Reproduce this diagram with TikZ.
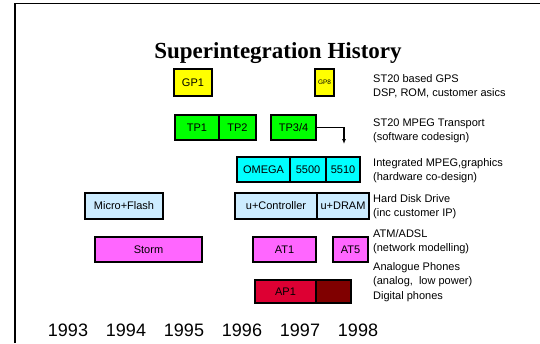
\documentclass[tikz,border=0pt]{standalone}
\usepackage{fontspec}
\setmainfont{Liberation Serif}
\setsansfont{Liberation Sans}
\usepackage{xcolor}
\usetikzlibrary{arrows.meta,positioning}
\definecolor{gpsyellow}{RGB}{255,255,0}
\definecolor{tpgreen}{RGB}{0,255,0}
\definecolor{mpegcyan}{RGB}{0,255,255}
\definecolor{hddblue}{RGB}{204,236,255}
\definecolor{atmpink}{RGB}{255,102,255}
\definecolor{phonered}{RGB}{221,0,51}
\definecolor{phonedark}{RGB}{128,0,0}

\begin{document}
\begin{tikzpicture}[
  x=1pt, y=-1pt,
  node distance=0pt,
  box/.style={draw, line width=1.3pt, anchor=north west, inner sep=0pt, outer sep=0pt,
              font=\sffamily\fontsize{11}{13}\selectfont, minimum height=25pt},
  gps/.style={box, fill=gpsyellow, minimum height=27pt},
  tpt/.style={box, fill=tpgreen},
  mpeg/.style={box, fill=mpegcyan},
  hdd/.style={box, fill=hddblue, minimum height=26pt},
  atm/.style={box, fill=atmpink},
  phone/.style={box, fill=phonered, minimum height=23pt},
  lbl/.style={anchor=base west, inner sep=0pt, align=left,
              font=\sffamily\fontsize{11}{14.5}\selectfont},
  yr/.style={anchor=base, inner sep=0pt, font=\sffamily\fontsize{18}{18}\selectfont},
  arr/.style={-{Latex[length=5pt,width=4pt]}, line width=1.1pt}
]
\useasboundingbox (0,0) rectangle (540,343);
\draw[line width=1.6pt] (15,343) -- (15,3.5) -- (540,3.5);

\node[anchor=base, inner sep=0pt, font=\bfseries\fontsize{23}{23}\selectfont] (title)
  at (278,58) {Superintegration History};

% GPS
\node[gps, minimum width=38pt] (gpa) at (174,69) {GP1};
\node[gps, minimum width=19pt, font=\sffamily\fontsize{6.5}{7}\selectfont] (gpb) at (315,69) {GP8};
\node[lbl] (gpslbl) at (373,96.5) {ST20 based GPS\\DSP, ROM, customer asics};

% transport
\node[tpt, minimum width=44pt] (tpa) at (175,115) {TP1};
\node[tpt, minimum width=37pt, right=of tpa.north east, anchor=north west] (tpb) {TP2};
\node[tpt, minimum width=45pt] (tpc) at (271,115) {TP3/4};
\coordinate (tpend) at (344,144);
\draw[arr] (tpc.east) -| (tpend);
\node[lbl] (tplbl) at (373,140.5) {ST20 MPEG Transport\\(software codesign)};

% MPEG
\node[mpeg, minimum width=53pt] (omega) at (237,157) {OMEGA};
\node[mpeg, minimum width=36pt, right=of omega.north east, anchor=north west] (mpa) {5500};
\node[mpeg, minimum width=34pt, right=of mpa.north east, anchor=north west] (mpb) {5510};
\node[lbl] (mpeglbl) at (373,180.5) {Integrated MPEG,graphics\\(hardware co-design)};

% disk drive
\node[hdd, minimum width=78pt] (micro) at (85,193) {Micro+Flash};
\node[hdd, minimum width=82pt] (uctrl) at (235,193) {u+Controller};
\node[hdd, minimum width=52pt, right=of uctrl.north east, anchor=north west] (udram) {u+DRAM};
\node[lbl] (hddlbl) at (373,216.5) {Hard Disk Drive\\(inc customer IP)};

% ATM
\node[atm, minimum width=107pt] (storm) at (95,237) {Storm};
\node[atm, minimum width=63pt] (ata) at (253,237) {AT1};
\node[atm, minimum width=35pt] (atb) at (333,237) {AT5};
\node[lbl] (atmlbl) at (373,251.5) {ATM/ADSL\\(network modelling)};

% phones
\node[phone, minimum width=61pt] (apa) at (255,280) {AP1};
\node[phone, minimum width=35pt, fill=phonedark, right=of apa.north east, anchor=north west] (apb) {};
\node[lbl] (phonelbl) at (373,299) {Analogue Phones\\(analog,\ \ low power)\\Digital phones};

% years
\foreach \yv [count=\i from 0] in {1993,...,1998}
  \node[yr] (y\yv) at (68+58*\i,336.5) {\yv};
\end{tikzpicture}
\end{document}
